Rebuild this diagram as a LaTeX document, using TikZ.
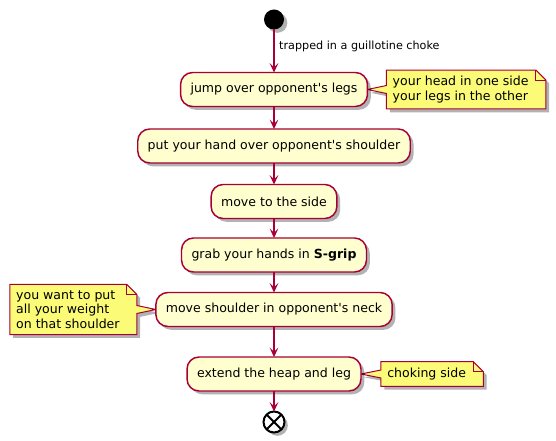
\documentclass[tikz,border=0pt]{standalone}
\usepackage{fontspec}
\defaultfontfeatures{Ligatures=TeXOff}
\setmainfont{DejaVu Sans}[Ligatures=TeXOff]
\usetikzlibrary{arrows.meta,positioning,shadows,backgrounds}
\def \pu {0.75pt}
\definecolor{umlred}{HTML}{A80036}
\definecolor{actfill}{HTML}{FEFECE}
\definecolor{notefill}{HTML}{FBFB77}

% note outline with folded corner, pointer on the left (note right of box)
\newcommand\notepathR[2]{%
  \path[notebg] (#1.north west) -- ([xshift=0.75pt]#1.north east)
    -- ([xshift=8.25pt,yshift=-7.5pt]#1.north east) -- ([xshift=8.25pt]#1.south east)
    -- (#1.south west) -- ([yshift=-3pt]#1.west) -- (#2.east) -- ([yshift=3pt]#1.west) -- cycle;
  \draw[umlred,line width=0.75pt] ([xshift=0.75pt]#1.north east) |- ([xshift=8.25pt,yshift=-7.5pt]#1.north east);
}
% same, pointer on the right (note left of box)
\newcommand\notepathL[2]{%
  \path[notebg] (#1.north west) -- ([xshift=0.75pt]#1.north east)
    -- ([xshift=8.25pt,yshift=-7.5pt]#1.north east) -- ([xshift=8.25pt,yshift=3pt]#1.east)
    -- (#2.west) -- ([xshift=8.25pt,yshift=-3pt]#1.east) -- ([xshift=8.25pt]#1.south east)
    -- (#1.south west) -- cycle;
  \draw[umlred,line width=0.75pt] ([xshift=0.75pt]#1.north east) |- ([xshift=8.25pt,yshift=-7.5pt]#1.north east);
}

\begin{document}
\begin{tikzpicture}[node distance=20*\pu,
    every node/.style={font=\fontsize{9.4}{10.7}\selectfont},
    umlshadow/.style={drop shadow={shadow xshift=2.5pt,shadow yshift=-2.5pt,opacity=0.3,fill=black}},
    act/.style={rectangle,rounded corners=9pt,draw=umlred,fill=actfill,line width=1.1pt,
      minimum height=34*\pu,inner xsep=10*\pu,outer sep=0pt,umlshadow},
    note/.style={align=left,inner xsep=6*\pu,inner ysep=4.5pt},
    notebg/.style={draw=umlred,fill=notefill,line width=0.75pt,umlshadow},
    flow/.style={draw=umlred,line width=1.1pt,-{Stealth[length=7pt,width=6.5pt,inset=3pt]}}]
  \useasboundingbox (0,0) rectangle (556*\pu,-441*\pu);

  \node[circle,fill=black,minimum size=20*\pu,inner sep=0pt,outer sep=0pt,umlshadow] (start) at (274*\pu,-19.5*\pu) {};
  \node[act,below=43*\pu of start] (jump) {jump over opponent's legs};
  \node[act,below=22.5*\pu of jump] (hand) {put your hand over opponent's shoulder};
  \node[act,below=21.5*\pu of hand] (side) {move to the side};
  \node[act,below=19.5*\pu of side] (grip) {grab your hands in \textbf{S-grip}};
  \node[act,below=20.5*\pu of grip] (neck) {move shoulder in opponent's neck};
  \node[act,below=30.5*\pu of neck] (extend) {extend the heap and leg};
  \node[circle,draw=black,fill=white,line width=1.5pt,minimum size=21*\pu,inner sep=0pt,outer sep=0pt,
    below=20.5*\pu of extend,umlshadow,
    path picture={\draw[line width=1.5pt]
      (path picture bounding box.north west) -- (path picture bounding box.south east)
      (path picture bounding box.north east) -- (path picture bounding box.south west);}] (stop) {};

  \node[note,right=19*\pu of jump] (n1) {your head in one side\\your legs in the other};
  \node[note,left=30*\pu of neck] (n2) {you want to put\\all your weight\\on that shoulder};
  \node[note,right=20*\pu of extend] (n3) {choking side};

  \begin{scope}[on background layer]
    \notepathR{n1}{jump}
    \notepathL{n2}{neck}
    \notepathR{n3}{extend}
  \end{scope}

  \draw[flow] (start) -- node[right,pos=0.4,font=\fontsize{8.4}{10}\selectfont] {trapped in a guillotine choke} (jump);
  \draw[flow] (jump) -- (hand);
  \draw[flow] (hand) -- (side);
  \draw[flow] (side) -- (grip);
  \draw[flow] (grip) -- (neck);
  \draw[flow] (neck) -- (extend);
  \draw[flow] (extend) -- (stop);
\end{tikzpicture}
\end{document}
